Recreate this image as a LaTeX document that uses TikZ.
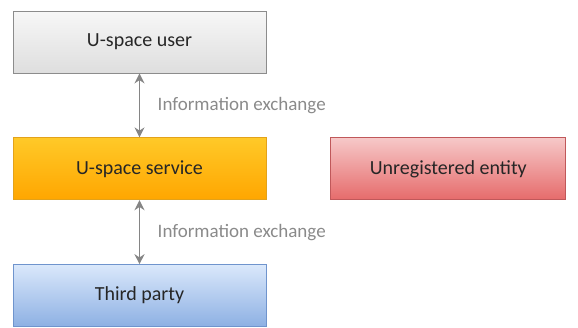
\documentclass[tikz,border=0pt]{standalone}
\usepackage{fontspec}
\setmainfont{Carlito}
\usetikzlibrary{arrows.meta,positioning}

\definecolor{usertop}{HTML}{F7F7F7}
\definecolor{userbot}{HTML}{DEDEDE}
\definecolor{userline}{HTML}{8C8C8C}
\definecolor{servtop}{HTML}{FFC928}
\definecolor{servbot}{HTML}{FFA600}
\definecolor{servline}{HTML}{E3A21A}
\definecolor{unrtop}{HTML}{F6C8C8}
\definecolor{unrbot}{HTML}{E66B6B}
\definecolor{unrline}{HTML}{C0585A}
\definecolor{thirdtop}{HTML}{DAE8FB}
\definecolor{thirdbot}{HTML}{8DB0E3}
\definecolor{thirdline}{HTML}{6F94CD}
\definecolor{arrowgray}{HTML}{858585}
\definecolor{labelgray}{HTML}{8A8A8A}

\tikzset{
  entity/.style={draw, line width=0.8pt, rectangle, minimum width=253pt, minimum height=62pt,
    font=\fontsize{20}{24}\selectfont, text=black!85},
  xchg/.style={{Stealth[length=10pt,width=10pt]}-{Stealth[length=10pt,width=10pt]}, line width=1.8pt, draw=arrowgray},
  xlabel/.style={font=\fontsize{19}{23}\selectfont, text=labelgray, right=14pt}
}

\begin{document}
\begin{tikzpicture}[x=1pt,y=1pt,node distance=64pt and 64pt]
   \useasboundingbox (0,0) rectangle (578,-327);

   \node[entity, top color=usertop, bottom color=userbot, draw=userline] (user) at (139.5,-42) {U-space user};
   \node[entity, top color=servtop, bottom color=servbot, draw=servline] (service) [below=of user] {U-space service};
   \node[entity, top color=thirdtop, bottom color=thirdbot, draw=thirdline] (third) [below=of service] {Third party};
   \node[entity, top color=unrtop, bottom color=unrbot, draw=unrline, minimum width=235pt] (unreg) [right=of service] {Unregistered entity};

   \draw[xchg] (user) -- (service) node[midway, xlabel] {Information exchange};
   \draw[xchg] (service) -- (third) node[midway, xlabel] {Information exchange};

\end{tikzpicture}
\end{document}
